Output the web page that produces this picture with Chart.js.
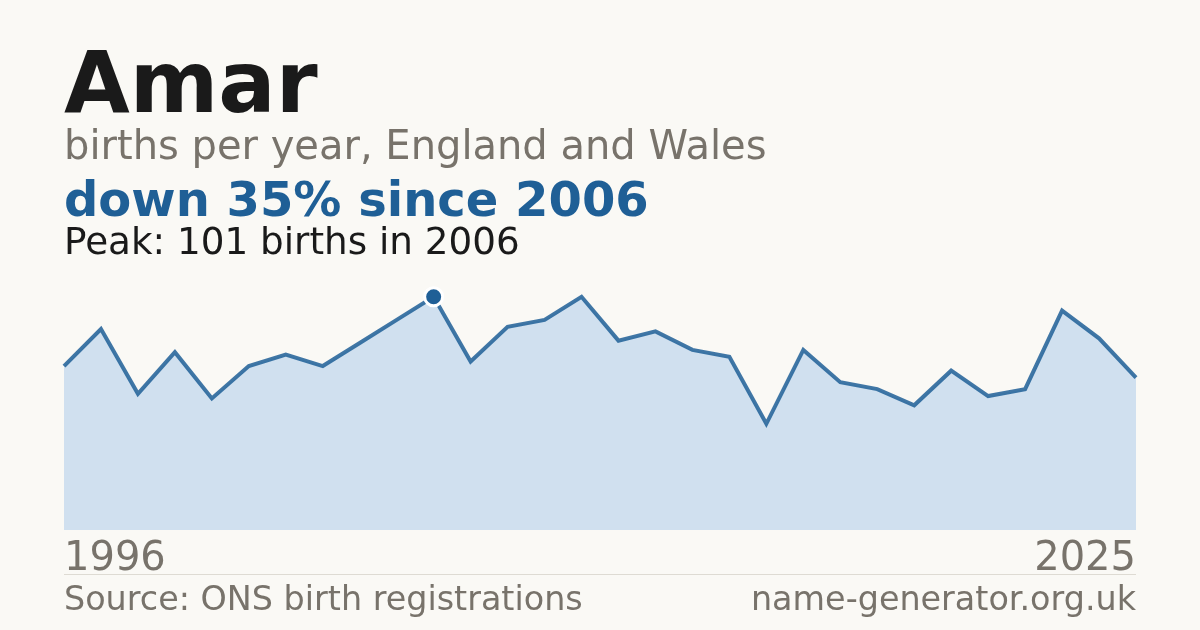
<!DOCTYPE html>
<html>
<head>
<meta charset="utf-8">
<script src="https://cdn.jsdelivr.net/npm/chart.js@4.4.1/dist/chart.umd.min.js"></script>
<style>
  html, body { margin: 0; padding: 0; background: #faf9f5; }
  body { width: 1200px; height: 630px; position: relative; overflow: hidden; font-family: "DejaVu Sans", sans-serif; }
  #c { position: absolute; left: 0; top: 0; width: 1200px; height: 630px; }
  .t { position: absolute; white-space: nowrap; line-height: 1; }
  #title { left: 64px; top: 40px; font-size: 85px; font-weight: bold; color: #1a1a1a; }
  #sub { left: 64px; top: 125px; font-size: 40px; color: #78736b; }
  #change { left: 64px; top: 175px; font-size: 48px; font-weight: bold; color: #1f5f96; }
  #peak { left: 64px; top: 223px; font-size: 37.3px; color: #1a1a1a; }
  #y0 { left: 64px; top: 536px; font-size: 40px; color: #78736b; }
  #y1 { right: 64px; top: 536px; font-size: 40px; color: #78736b; }
  #rule { position: absolute; left: 64px; width: 1072px; top: 574px; height: 1px; background: #dedbd3; }
  #src { left: 64px; top: 582px; font-size: 33.4px; color: #78736b; }
  #site { right: 64px; top: 582px; font-size: 33.4px; color: #78736b; }
</style>
</head>
<body>
<canvas id="c" width="1200" height="630"></canvas>
<div class="t" id="title"></div>
<div class="t" id="sub"></div>
<div class="t" id="change"></div>
<div class="t" id="peak"></div>
<div class="t" id="y0"></div>
<div class="t" id="y1"></div>
<div id="rule"></div>
<div class="t" id="src"></div>
<div class="t" id="site"></div>
<script>
const nameText = "Amar";
const subtitleText = "births per year, England and Wales";
const changeText = "down 35% since 2006";
const peakText = "Peak: 101 births in 2006";
const sourceText = "Source: ONS birth registrations";
const siteText = "name-generator.org.uk";

const years = ["1996","1997","1998","1999","2000","2001","2002","2003","2004","2005",
               "2006","2007","2008","2009","2010","2011","2012","2013","2014","2015",
               "2016","2017","2018","2019","2020","2021","2022","2023","2024","2025"];
const births = [71, 87, 59, 77, 57, 71, 76, 71, 81, 91,
                101, 73, 88, 91, 101, 82, 86, 78, 75, 46,
                78, 64, 61, 54, 69, 58, 61, 95, 83, 66];
const peakYear = "2006";
const yMin = 0;
const yMax = 110;

document.getElementById('title').textContent = nameText;
document.getElementById('sub').textContent = subtitleText;
document.getElementById('change').textContent = changeText;
document.getElementById('peak').textContent = peakText;
document.getElementById('y0').textContent = years[0];
document.getElementById('y1').textContent = years[years.length - 1];
document.getElementById('src').textContent = sourceText;
document.getElementById('site').textContent = siteText;

const peakIndex = years.indexOf(peakYear);

new Chart(document.getElementById('c'), {
  type: 'line',
  data: {
    labels: years,
    datasets: [{
      data: births,
      borderColor: 'rgba(31,95,150,0.85)',
      borderWidth: 4,
      backgroundColor: '#d0e0ef',
      fill: 'origin',
      tension: 0,
      clip: false,
      pointRadius: ctx => ctx.dataIndex === peakIndex ? 9 : 0,
      pointBackgroundColor: '#1f5f96',
      pointBorderColor: '#ffffff',
      pointBorderWidth: 3,
      pointHoverRadius: 0
    }]
  },
  options: {
    responsive: false,
    animation: false,
    devicePixelRatio: 1,
    layout: { padding: { left: 64, right: 64, top: 276, bottom: 100 } },
    plugins: { legend: { display: false }, tooltip: { enabled: false }, title: { display: false } },
    scales: {
      x: { display: false, offset: false },
      y: { display: false, min: yMin, max: yMax }
    }
  }
});
</script>
</body>
</html>
